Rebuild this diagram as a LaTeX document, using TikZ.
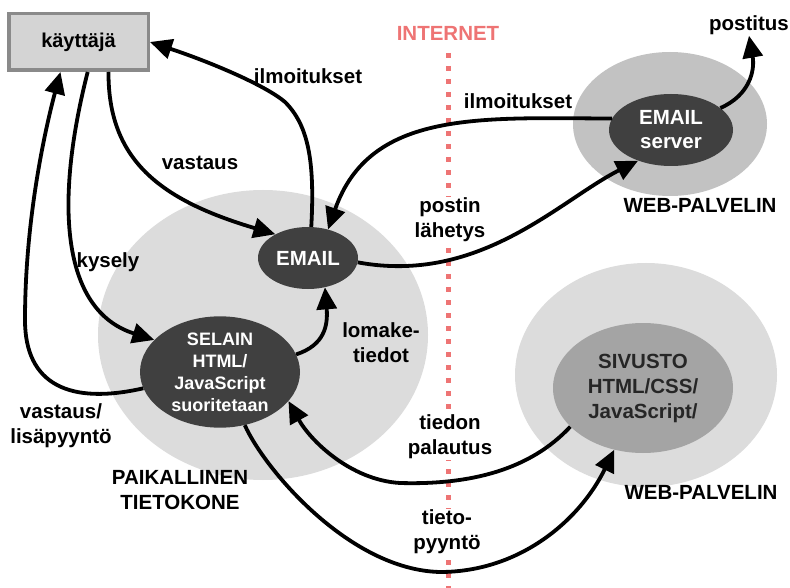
\documentclass[tikz,border=0pt]{standalone}
\usepackage{fontspec}
\setmainfont{Liberation Sans}
\usetikzlibrary{shapes.geometric,arrows.meta}
\definecolor{lightbg}{HTML}{DCDCDC}
\definecolor{midbg}{HTML}{C2C2C2}
\definecolor{innerbg}{HTML}{A4A4A4}
\definecolor{darknode}{HTML}{404040}
\definecolor{boxfill}{HTML}{D4D4D4}
\definecolor{boxline}{HTML}{8A8A8A}
\definecolor{netred}{HTML}{EE7474}
\begin{document}
\begin{tikzpicture}[x=1pt,y=-1pt,
 lbl/.style={font=\fontsize{20.5}{25}\selectfont\bfseries, align=center, inner sep=1pt},
 blob/.style={ellipse, inner sep=0pt},
 dark/.style={blob, fill=darknode, text=white, font=\fontsize{20.5}{24}\selectfont\bfseries, align=center},
 flow/.style={line width=3.8pt, black, -{Triangle[length=22pt,width=20pt]}},
]
\useasboundingbox (0,0) rectangle (790,588);
% background blobs
\node[blob, fill=lightbg, minimum width=330pt, minimum height=290pt] (pc) at (263,335) {};
\node[blob, fill=midbg, minimum width=194pt, minimum height=144pt] (ws1) at (670,124) {};
\node[blob, fill=lightbg, minimum width=262pt, minimum height=224pt] (ws2) at (646,375) {};
% internet line
\node[font=\fontsize{20.5}{24}\selectfont\bfseries, text=netred] (inet) at (448,33) {INTERNET};
\coordinate (dtop) at (448,53);
\coordinate (dbot) at (448,592);
\draw[netred, line width=5pt, dash pattern=on 5pt off 8pt] (dtop) -- (dbot);
% main nodes
\node[draw=boxline, line width=3.5pt, fill=boxfill, minimum width=139.5pt, minimum height=56.5pt, inner sep=0pt, font=\fontsize{20}{22}\selectfont\bfseries] (user) at (78.5,42) {käyttäjä};
\node[dark, minimum width=100pt, minimum height=62pt] (email) at (308,258) {EMAIL};
\node[dark, minimum width=160pt, minimum height=108pt, font=\fontsize{18}{22}\selectfont\bfseries] (selain) at (220,372) {SELAIN\\HTML/\\JavaScript\\suoritetaan};
\node[dark, minimum width=124pt, minimum height=72pt] (mserv) at (671,130) {EMAIL\\server};
\node[blob, fill=innerbg, minimum width=180pt, minimum height=130pt, text=black!85, align=center, font=\fontsize{20.5}{25}\selectfont\bfseries] (site) at (643,388) {SIVUSTO\\HTML/CSS/\\JavaScript/};
% labels
\node[lbl] (l1) at (308,76) {ilmoitukset};
\node[lbl] (l2) at (200,163) {vastaus};
\node[lbl] (l3) at (108,262) {kysely};
\node[lbl] (l4) at (61,426) {vastaus/\\lisäpyyntö};
\node[lbl] (l5) at (180,490) {PAIKALLINEN\\TIETOKONE};
\node[lbl] (l6) at (381,343) {lomake-\\tiedot};
\node[lbl] (l7) at (518,101) {ilmoitukset};
\node[lbl, fill=white] (l8) at (450,220) {postin\\lähetys};
\node[lbl, fill=white] (l9) at (450,437) {tiedon\\palautus};
\node[lbl, fill=white] (l10) at (447,532) {tieto-\\pyyntö};
\node[lbl] (l11) at (749,25) {postitus};
\node[lbl] (w1) at (700,205) {WEB-PALVELIN};
\node[lbl] (w2) at (701,492) {WEB-PALVELIN};
% connectors
\draw[flow] (email.84) .. controls (315,160) and (308,125) .. (285,102) .. controls (265,85) and (210,62) .. (user.east);
\draw[flow] (user.-45) .. controls (108,160) and (160,200) .. (email.144);
\draw[flow] (user.-73) .. controls (55,200) and (60,310) .. (selain.154);
\draw[flow] (selain.-168) .. controls (70,405) and (25,385) .. (25,320) .. controls (25,220) and (45,130) .. (user.-121);
\draw[flow] (selain.13) .. controls (325,345) and (328,325) .. (email.-60);
\draw[flow] (mserv.169) .. controls (480,118) and (370,110) .. (email.55);
\draw[flow] (email.-5) .. controls (480,285) and (560,200) .. (mserv.223);
\draw[flow] (mserv.24) .. controls (750,95) and (755,70) .. (l11.south);
\draw[flow] (site.208) .. controls (530,470) and (470,485) .. (400,483) .. controls (350,480) and (310,440) .. (selain.-23);
\draw[flow] (selain.-65) .. controls (265,470) and (350,570) .. (440,572) .. controls (520,572) and (580,520) .. (site.245);
\end{tikzpicture}
\end{document}
